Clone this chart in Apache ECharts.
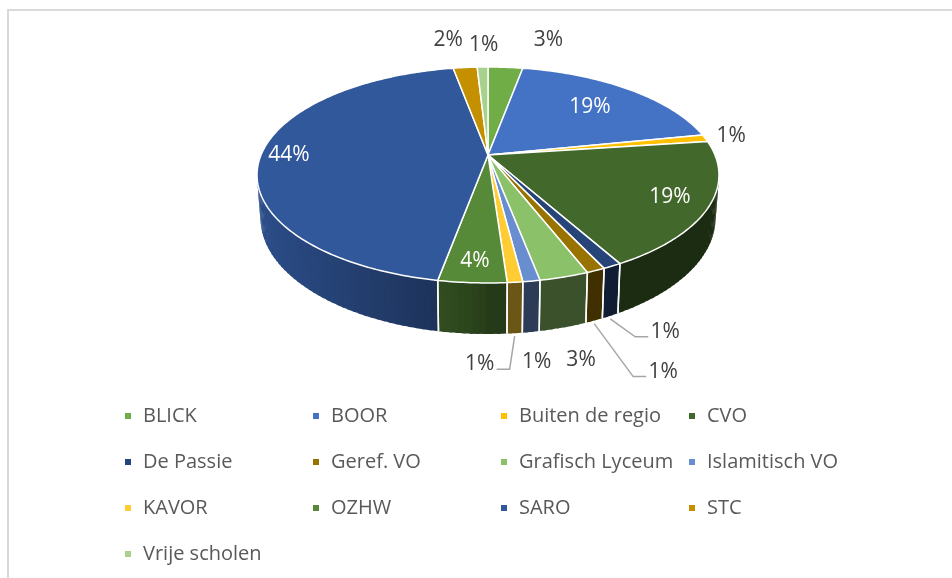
<!DOCTYPE html>
<html>
<head>
<meta charset="utf-8">
<script src="https://cdn.jsdelivr.net/npm/echarts@6/dist/echarts.min.js"></script>
<style>html,body{margin:0;padding:0;background:#fff}#c{width:952px;height:578px}</style>
</head>
<body>
<div id="c"></div>
<script>
// ---- data ----
const categories = ['BLICK','BOOR','Buiten de regio','CVO','De Passie','Geref. VO','Grafisch Lyceum','Islamitisch VO','KAVOR','OZHW','SARO','STC','Vrije scholen'];
const values = [2.9, 18.9, 1.1, 19.0, 1.1, 1.1, 2.9, 1.0, 0.9, 4.0, 44.2, 2.0, 0.9];
const colors = ['#70AD47','#4472C4','#FFC000','#43682B','#264478','#997300','#8BC168','#698ED0','#FFCD33','#578A38','#32589C','#C49000','#A9D18E'];

// ---- label placement (style/layout, not data) ----
const labelPlacement = [
  {at:'top', dx:43, dy:-27},
  {at:'in', r:0.70},
  {at:'top', dx:26, dy:-2},
  {at:'in', r:0.835},
  {at:'wall', dx:55, dy:16, leader:true},
  {at:'wall', dx:69, dy:51, leader:true},
  {at:'wall', dx:18, dy:32},
  {at:'wall', dx:6, dy:30},
  {at:'wall', dx:-35, dy:31, leader:true},
  {at:'in', r:0.86},
  {at:'in', r:0.877},
  {at:'top', dx:-17, dy:-27},
  {at:'top', dx:1, dy:-22}
];

const FONT = "'Open Sans', 'Liberation Sans', sans-serif";
// perspective projection of the 3D pie
const CX = 488, CY = 155, KX = 227, KY = 104.3, E = 0.185, DROP = 41.6;
function proj(deg, r, z) {
  const a = deg * Math.PI / 180;
  const x = r * Math.sin(a), y = r * Math.cos(a);
  const w = 1 + E * y;
  return [CX + KX * x / w * (1 - 0.015 * z), CY - KY * y / w + z * DROP / w];
}
function shade(hex, f) {
  const n = parseInt(hex.slice(1), 16);
  const r = Math.round(((n >> 16) & 255) * f), g = Math.round(((n >> 8) & 255) * f), b = Math.round((n & 255) * f);
  return 'rgb(' + r + ',' + g + ',' + b + ')';
}
function wallFactor(deg) {
  const s = Math.max(0, -Math.sin(deg * Math.PI / 180));
  return 0.42 + 0.48 * Math.pow(s, 0.7);
}
const total = values.reduce((a, b) => a + b, 0);
const VIS_LO = 100.6, VIS_HI = 259.4;

function makeRender(i) {
  return function (params, api) {
    const v = api.value(0);
    let start = 0;
    for (let k = 0; k < i; k++) start += values[k];
    const a0 = start / total * 360, a1 = (start + v) / total * 360;
    const color = colors[i];
    const children = [];
    // side wall (overlapping thin segments give a smooth shading)
    const lo = Math.max(a0, VIS_LO), hi = Math.min(a1, VIS_HI);
    if (hi > lo) {
      const n = Math.max(1, Math.ceil((hi - lo) / 1.5));
      for (let k = 0; k < n; k++) {
        const s = lo + (hi - lo) * k / n;
        const e = Math.min(hi, lo + (hi - lo) * (k + 1) / n + 0.6);
        const c = shade(color, wallFactor((s + e) / 2));
        children.push({
          type: 'polygon', z2: 1,
          shape: {points: [proj(s,1,0), proj(e,1,0), proj(e,1,1), proj(s,1,1)]},
          style: {fill: c}
        });
      }
      [a0, a1].forEach(function (b) {
        if (b > VIS_LO && b < VIS_HI) {
          const p = proj(b,1,0), q = proj(b,1,1);
          children.push({type:'line', z2: 3, shape:{x1:p[0], y1:p[1], x2:q[0], y2:q[1]}, style:{stroke:'#ffffff', lineWidth:1.5}});
        }
      });
    }
    // top face
    const pts = [proj(0,0,0)];
    const m = Math.max(2, Math.ceil((a1 - a0) / 0.8));
    for (let k = 0; k <= m; k++) pts.push(proj(a0 + (a1 - a0) * k / m, 1, 0));
    children.push({
      type: 'polygon', z2: 5,
      shape: {points: pts},
      style: {fill: color, stroke: '#ffffff', lineWidth: 1.5, lineJoin: 'round'}
    });
    // label
    const L = labelPlacement[i];
    const mid = (a0 + a1) / 2;
    let lx, ly, fill = '#404040';
    if (L.at === 'in') {
      const p = proj(mid, L.r, 0); lx = p[0]; ly = p[1]; fill = '#ffffff';
    } else {
      const anc = proj(mid, 1, L.at === 'wall' ? 1 : 0);
      lx = anc[0] + L.dx; ly = anc[1] + L.dy;
      if (L.leader) {
        const side = lx > anc[0] ? 1 : -1;
        const endX = lx - side * 17, elbowX = endX - side * 13, yy = ly + 5;
        children.push({
          type: 'polyline', z2: 8,
          shape: {points: [[anc[0], anc[1] + 3], [elbowX, yy], [endX, yy]]},
          style: {stroke: '#a6a6a6', lineWidth: 1.5, fill: null}
        });
      }
    }
    children.push({
      type: 'text', z2: 10, x: lx, y: ly,
      style: {text: Math.round(v) + '%', fill: fill, fontSize: 21, fontFamily: FONT,
              align: 'center', verticalAlign: 'middle', textAlign: 'center', textVerticalAlign: 'middle'}
    });
    return {type: 'group', children: children};
  };
}

const series = categories.map(function (name, i) {
  return {
    type: 'custom', name: name, coordinateSystem: 'none',
    itemStyle: {color: colors[i]},
    data: [[values[i]]],
    renderItem: makeRender(i),
    animation: false, silent: true
  };
});

const colLeft = [125, 313, 501, 689];
const legends = colLeft.map(function (left, c) {
  return {
    orient: 'vertical', left: left, top: 404, padding: 0,
    itemGap: 22, itemWidth: 6, itemHeight: 6, icon: 'rect', selectedMode: false,
    data: categories.filter(function (_, k) { return k % 4 === c; }),
    textStyle: {fontFamily: FONT, fontSize: 20, color: '#595959', lineHeight: 24, padding: [0, 0, 0, 7]}
  };
});

const chart = echarts.init(document.getElementById('c'), null, {renderer: 'canvas'});
chart.setOption({
  animation: false,
  color: colors,
  legend: legends,
  graphic: [{
    type: 'rect', silent: true, z: -10,
    shape: {x: 8, y: 10, width: 1000, height: 700},
    style: {fill: null, stroke: '#d9d9d9', lineWidth: 2}
  }],
  series: series
});
</script>
</body>
</html>
